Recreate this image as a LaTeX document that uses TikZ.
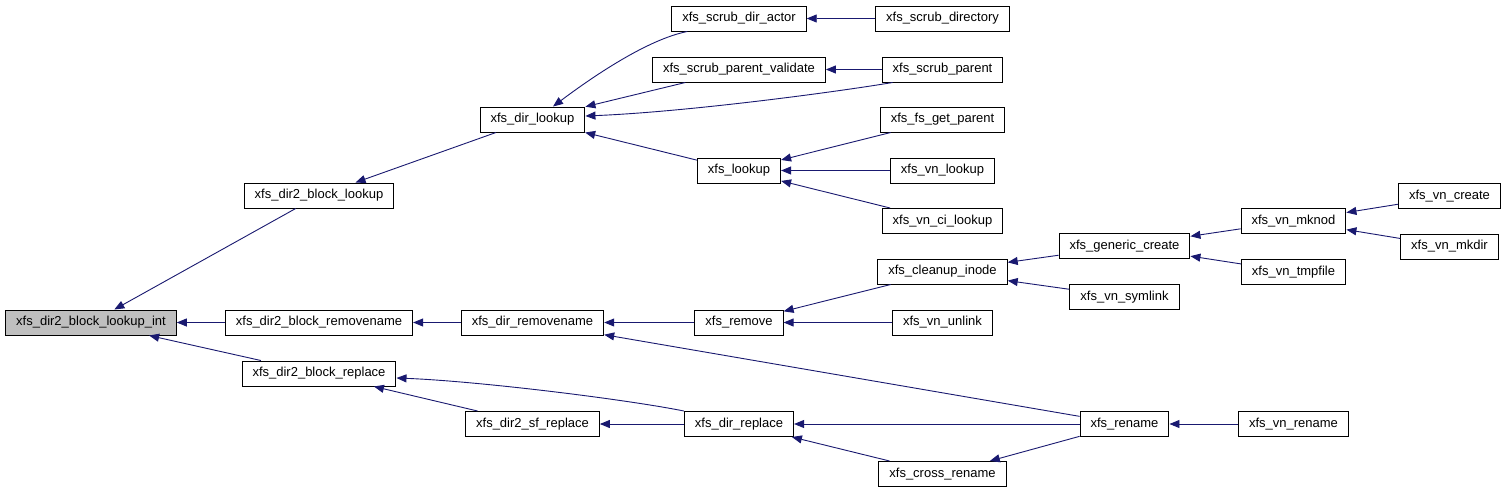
\documentclass[tikz,border=0pt]{standalone}
\usepackage{fontspec}
\setmainfont{Liberation Sans}
\usetikzlibrary{arrows.meta}
\definecolor{edgeblue}{RGB}{25,25,112}
\definecolor{rootgray}{RGB}{191,191,191}
\begin{document}
\begin{tikzpicture}[x=1pt,y=-1pt,
  fn/.style={draw=black,line width=1pt,fill=white,inner xsep=10.5pt,inner ysep=0pt,
    minimum height=25pt,font=\fontsize{13}{15}\selectfont,anchor=center},
  root/.style={fn,fill=rootgray},
  edge/.style={draw=edgeblue,line width=0.9pt,-{Triangle[length=10pt,width=8pt]}}]
\useasboundingbox (0,0) rectangle (1507,493);
\fill[white] (0,0) rectangle (1507,493);
% nodes
\node[root] (lookupint) at (91,322.5) {xfs\_dir2\_block\_lookup\_int};
\node[fn] (blookup) at (319,195.5) {xfs\_dir2\_block\_lookup};
\node[fn] (bremovename) at (319,322.5) {xfs\_dir2\_block\_removename};
\node[fn] (breplace) at (319,373.5) {xfs\_dir2\_block\_replace};
\node[fn] (dirlookup) at (532.5,119.5) {xfs\_dir\_lookup};
\node[fn] (dirremovename) at (532.5,322.5) {xfs\_dir\_removename};
\node[fn] (sfreplace) at (532.5,424) {xfs\_dir2\_sf\_replace};
\node[fn] (actor) at (739,18.5) {xfs\_scrub\_dir\_actor};
\node[fn] (validate) at (739,69.5) {xfs\_scrub\_parent\_validate};
\node[fn] (xlookup) at (739,170.5) {xfs\_lookup};
\node[fn] (remove) at (739,322.5) {xfs\_remove};
\node[fn] (dirreplace) at (739,424) {xfs\_dir\_replace};
\node[fn] (scrubdir) at (942.5,18.5) {xfs\_scrub\_directory};
\node[fn] (scrubparent) at (942.5,69.5) {xfs\_scrub\_parent};
\node[fn] (getparent) at (942.5,119.5) {xfs\_fs\_get\_parent};
\node[fn] (vnlookup) at (942.5,170.5) {xfs\_vn\_lookup};
\node[fn] (cilookup) at (942.5,221) {xfs\_vn\_ci\_lookup};
\node[fn] (cleanup) at (942.5,271.5) {xfs\_cleanup\_inode};
\node[fn] (unlink) at (942.5,322.5) {xfs\_vn\_unlink};
\node[fn] (crossrename) at (942.5,474) {xfs\_cross\_rename};
\node[fn] (generic) at (1124.5,246) {xfs\_generic\_create};
\node[fn] (symlink) at (1124.5,297) {xfs\_vn\_symlink};
\node[fn] (rename) at (1124.5,424) {xfs\_rename};
\node[fn] (mknod) at (1293.5,221) {xfs\_vn\_mknod};
\node[fn] (tmpfile) at (1293.5,272) {xfs\_vn\_tmpfile};
\node[fn] (vnrename) at (1293.5,424) {xfs\_vn\_rename};
\node[fn] (vncreate) at (1449.5,196) {xfs\_vn\_create};
\node[fn] (mkdir) at (1449.5,246.5) {xfs\_vn\_mkdir};
% edges
\draw[edge] (blookup) -- (lookupint);
\draw[edge] (bremovename) -- (lookupint);
\draw[edge] (breplace) -- (lookupint);
\draw[edge] (dirlookup) -- (blookup);
\draw[edge] (dirremovename) -- (bremovename);
\draw[edge] (dirreplace.north west) .. controls +(-60,-12) and +(80,3) .. ([yshift=-4.5pt]breplace.east);
\draw[edge] (sfreplace) -- (breplace);
\draw[edge] (dirreplace) -- (sfreplace);
\draw[edge] ([xshift=16pt]actor.south west) .. controls +(-40,8) and +(40,-30) .. ([xshift=20.5pt]dirlookup.north);
\draw[edge] (validate) -- (dirlookup);
\draw[edge] ([xshift=11pt]scrubparent.south west) .. controls +(-60,10) and +(100,-4) .. ([yshift=3.5pt]dirlookup.east);
\draw[edge] (xlookup) -- (dirlookup);
\draw[edge] (scrubdir) -- (actor);
\draw[edge] (scrubparent) -- (validate);
\draw[edge] (getparent) -- (xlookup);
\draw[edge] (vnlookup) -- (xlookup);
\draw[edge] (cilookup) -- (xlookup);
\draw[edge] (remove) -- (dirremovename);
\draw[edge] (rename) -- (dirremovename);
\draw[edge] (cleanup) -- (remove);
\draw[edge] (unlink) -- (remove);
\draw[edge] (rename) -- (dirreplace);
\draw[edge] (crossrename) -- (dirreplace);
\draw[edge] (generic) -- (cleanup);
\draw[edge] (symlink) -- (cleanup);
\draw[edge] (rename) -- (crossrename);
\draw[edge] (vnrename) -- (rename);
\draw[edge] (mknod) -- (generic);
\draw[edge] (tmpfile) -- (generic);
\draw[edge] (vncreate) -- (mknod);
\draw[edge] (mkdir) -- (mknod);
\end{tikzpicture}
\end{document}
